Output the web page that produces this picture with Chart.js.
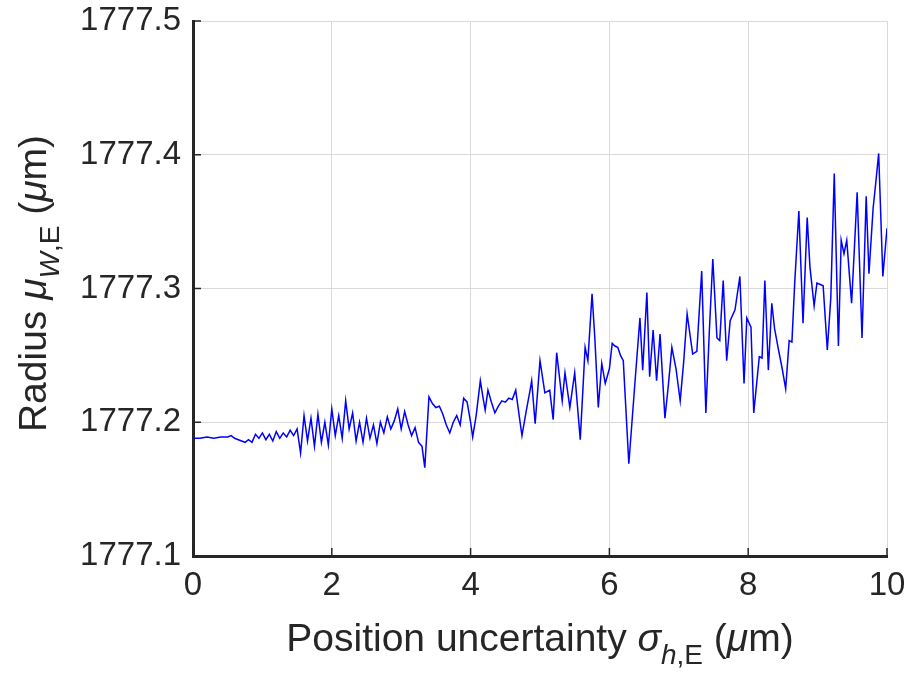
<!DOCTYPE html>
<html><head><meta charset="utf-8">
<script src="https://cdn.jsdelivr.net/npm/chart.js@4.4.1/dist/chart.umd.min.js"></script>
<style>html,body{margin:0;padding:0;background:#fff;}#wrap{width:909px;height:675px;position:relative;}</style>
</head><body><div id="wrap"><canvas id="c"></canvas></div>
<script>
// Position uncertainty sigma_h,E (µm)
const xValues = [
0.00,0.10,0.20,0.30,0.40,0.50,0.55,0.60,0.70,0.75,0.80,0.85,0.90,0.95,1.00,1.05,1.10,1.15,1.20,1.25,
1.30,1.35,1.40,1.45,1.50,1.55,1.60,1.65,1.70,1.75,1.80,1.85,1.90,1.95,2.00,2.05,2.10,2.15,2.20,2.25,
2.30,2.35,2.40,2.45,2.50,2.55,2.60,2.65,2.70,2.75,2.80,2.85,2.90,2.95,3.00,3.05,3.10,3.15,3.20,3.25,
3.30,3.34,3.40,3.45,3.50,3.55,3.60,3.65,3.70,3.75,3.80,3.85,3.90,3.95,4.00,4.03,4.08,4.14,4.18,4.21,
4.25,4.30,4.35,4.40,4.45,4.50,4.55,4.60,4.65,4.70,4.74,4.80,4.85,4.88,4.93,5.00,5.07,5.14,5.19,
5.24,5.32,5.36,5.43,5.50,5.58,5.65,5.69,5.75,5.79,5.84,5.89,5.94,6.00,6.04,6.08,6.12,6.16,6.20,6.28,6.37,6.44,6.48,
6.54,6.58,6.63,6.68,6.73,6.80,6.85,6.90,6.96,7.02,7.07,7.12,7.20,7.26,7.33,7.39,7.44,7.49,7.55,7.59,7.64,7.69,7.74,7.81,
7.88,7.94,7.98,8.04,8.08,8.16,8.20,8.24,8.29,8.34,8.38,8.43,8.49,8.54,8.59,8.63,8.67,8.73,8.79,8.85,8.89,8.95,
8.99,9.04,9.08,9.14,9.19,9.24,9.30,9.34,9.38,9.42,9.49,9.53,9.57,9.64,9.70,9.74,9.80,9.84,9.88,9.94,10.00];
// Radius mu_W,E (µm)
const radiusValues = [
1777.188,1777.188,1777.189,1777.188,1777.189,1777.189,1777.190,1777.188,1777.186,1777.185,1777.187,1777.185,1777.191,1777.188,1777.192,1777.187,1777.191,1777.186,1777.193,1777.188,
1777.192,1777.189,1777.194,1777.190,1777.195,1777.177,1777.205,1777.186,1777.203,1777.182,1777.206,1777.185,1777.200,1777.183,1777.210,1777.190,1777.205,1777.188,1777.216,1777.195,
1777.207,1777.186,1777.200,1777.185,1777.203,1777.188,1777.198,1777.184,1777.200,1777.192,1777.204,1777.195,1777.201,1777.210,1777.195,1777.208,1777.198,1777.190,1777.196,1777.185,
1777.182,1777.166,1777.219,1777.214,1777.211,1777.212,1777.206,1777.198,1777.192,1777.200,1777.205,1777.198,1777.218,1777.215,1777.200,1777.189,1777.205,1777.231,1777.218,1777.209,
1777.224,1777.215,1777.207,1777.212,1777.216,1777.215,1777.218,1777.217,1777.224,1777.205,1777.190,1777.208,1777.222,1777.231,1777.199,1777.246,1777.222,1777.224,1777.202,
1777.252,1777.216,1777.237,1777.211,1777.237,1777.187,1777.256,1777.246,1777.296,1777.263,1777.211,1777.244,1777.229,1777.240,1777.259,1777.257,1777.256,1777.250,1777.246,1777.169,1777.231,1777.278,1777.239,
1777.297,1777.234,1777.269,1777.231,1777.266,1777.203,1777.228,1777.256,1777.240,1777.216,1777.245,1777.281,1777.251,1777.253,1777.313,1777.207,1777.268,1777.322,1777.263,1777.261,1777.306,1777.246,1777.276,1777.284,
1777.309,1777.229,1777.278,1777.271,1777.207,1777.249,1777.248,1777.306,1777.239,1777.289,1777.270,1777.256,1777.240,1777.225,1777.261,1777.260,1777.304,1777.358,1777.274,1777.353,1777.316,1777.287,
1777.304,1777.303,1777.302,1777.254,1777.293,1777.386,1777.257,1777.336,1777.326,1777.336,1777.289,1777.330,1777.372,1777.263,1777.369,1777.311,1777.360,1777.380,1777.401,1777.309,1777.345];
const xTicks = [0, 2, 4, 6, 8, 10];
const yTicks = [1777.1, 1777.2, 1777.3, 1777.4, 1777.5];

const FONT = "'Liberation Sans', Arial, sans-serif";
const TEXT = '#262626';

const xTitle = [
  {t: 'Position uncertainty '}, {t: '\u03C3', i: true}, {t: 'h', i: true, s: true}, {t: ',E', s: true},
  {t: ' ('}, {t: '\u03BC', i: true}, {t: 'm)'}];
const yTitle = [
  {t: 'Radius '}, {t: '\u03BC', i: true}, {t: 'W', i: true, s: true}, {t: ',E', s: true},
  {t: ' ('}, {t: '\u03BC', i: true}, {t: 'm)'}];

function drawParts(ctx, parts, cx, baseY, size) {
  const sub = Math.round(size * 0.72);
  const fontOf = p => (p.i ? 'italic ' : '') + (p.s ? sub : size) + 'px ' + FONT;
  let w = 0;
  parts.forEach(p => { ctx.font = fontOf(p); p.w = ctx.measureText(p.t).width; w += p.w; });
  ctx.save();
  ctx.translate(cx, baseY);
  let x = -w / 2;
  ctx.fillStyle = TEXT;
  ctx.textBaseline = 'alphabetic';
  ctx.textAlign = 'left';
  parts.forEach(p => { ctx.font = fontOf(p); ctx.fillText(p.t, x, p.s ? size * 0.33 : 0); x += p.w; });
  ctx.restore();
}

const decor = {
  id: 'decor',
  afterDraw(chart) {
    const {ctx, chartArea: a, scales} = chart;
    ctx.save();
    ctx.strokeStyle = TEXT;
    ctx.lineWidth = 1.5;
    ctx.beginPath();
    yTicks.forEach(v => { const y = scales.y.getPixelForValue(v); ctx.moveTo(a.left, y); ctx.lineTo(a.left + 8, y); });
    xTicks.forEach(v => { const x = scales.x.getPixelForValue(v); ctx.moveTo(x, a.bottom); ctx.lineTo(x, a.bottom - 8); });
    ctx.stroke();
    ctx.restore();
    drawParts(ctx, xTitle, (a.left + a.right) / 2, 651, 39);
    ctx.save();
    ctx.translate(46, (a.top + a.bottom) / 2 - 5);
    ctx.rotate(-Math.PI / 2);
    drawParts(ctx, yTitle, 0, 0, 39);
    ctx.restore();
  }
};

new Chart(document.getElementById('c'), {
  type: 'scatter',
  data: {
    datasets: [{
      data: xValues.map((x, i) => ({x, y: radiusValues[i]})),
      showLine: true, borderColor: '#0000ff', backgroundColor: '#0000ff',
      borderWidth: 1.5, pointRadius: 0, tension: 0
    }]
  },
  options: {
    responsive: true, maintainAspectRatio: false, animation: false,
    layout: {padding: {top: 21, right: 22, left: 0, bottom: 0}},
    plugins: {legend: {display: false}, tooltip: {enabled: false}},
    scales: {
      x: {
        type: 'linear', min: 0, max: 10,
        afterBuildTicks: s => { s.ticks = xTicks.map(v => ({value: v})); },
        afterFit: s => { s.height = 119; s.paddingLeft = 0; s.paddingRight = 0; },
        ticks: {callback: v => String(v), color: TEXT, font: {family: FONT, size: 33}, padding: 10, maxRotation: 0},
        grid: {color: '#d9d9d9', lineWidth: 1, drawTicks: false},
        border: {display: true, color: TEXT, width: 3}
      },
      y: {
        type: 'linear', min: 1777.1, max: 1777.5,
        afterBuildTicks: s => { s.ticks = yTicks.map(v => ({value: v})); },
        afterFit: s => { s.width = 193; s.paddingTop = 0; s.paddingBottom = 0; },
        ticks: {callback: v => v.toFixed(1), color: TEXT, font: {family: FONT, size: 33}, padding: 12},
        grid: {color: '#d9d9d9', lineWidth: 1, drawTicks: false},
        border: {display: true, color: TEXT, width: 3}
      }
    }
  },
  plugins: [decor]
});
</script></body></html>
